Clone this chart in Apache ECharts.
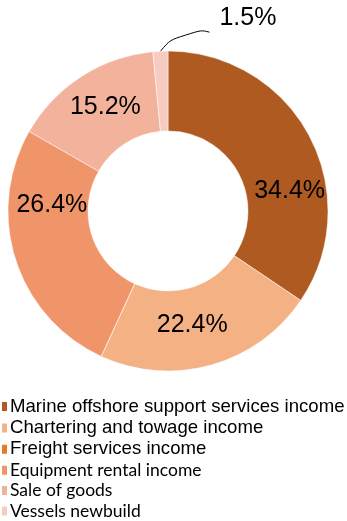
<!DOCTYPE html>
<html>
<head>
<meta charset="utf-8">
<script src="https://cdn.jsdelivr.net/npm/echarts@6/dist/echarts.min.js"></script>
<style>
  html, body { margin: 0; padding: 0; background: #fff; }
  #chart { width: 347px; height: 521px; }
</style>
</head>
<body>
<div id="chart"></div>
<script>
// Revenue breakdown by segment (share of total, %)
const categories = [
  'Marine offshore support services income',
  'Chartering and towage income',
  'Freight services income',
  'Equipment rental income',
  'Sale of goods',
  'Vessels newbuild'
];
const shares = [34.4, 22.4, 0, 26.4, 15.2, 1.5];
const colors = ['#AE5A21', '#F4B183', '#E47A2A', '#F0946A', '#F2B29B', '#F7CCC0'];

// Nudges for the in-ring labels, relative to their default spot
const labelNudge = [[13, 38], [-9, -4], [0, 0], [1, -43], [4, 0], [0, 0]];

const chart = echarts.init(document.getElementById('chart'), null, { renderer: 'canvas' });

const isSmall = v => v > 0 && v < 5;

const data = categories.map((name, i) => {
  const item = { name: name, value: shares[i], itemStyle: { color: colors[i] } };
  if (shares[i] === 0) {
    item.label = { show: false };
    item.labelLine = { show: false };
  }
  if (isSmall(shares[i])) {
    item.label = { position: 'outside' };
    item.labelLine = { show: true, length: 8, length2: 40, smooth: 0.7,
      lineStyle: { color: '#000', width: 1 } };
  }
  return item;
});

chart.setOption({
  animation: false,
  legend: {
    orient: 'vertical',
    left: 0,
    top: 397,
    height: 150,
    padding: 0,
    itemWidth: 7,
    itemHeight: 11,
    itemGap: 2.4,
    icon: 'rect',
    data: categories,
    formatter: function (name) {
      return categories.indexOf(name) >= 3 ? '{b|' + name + '}' : '{a|' + name + '}';
    },
    textStyle: {
      color: '#000',
      padding: [0, 0, 0, -3],
      rich: {
        a: { fontFamily: 'Liberation Sans, Arial, sans-serif', fontSize: 18.6, lineHeight: 20, color: '#000' },
        b: { fontFamily: 'Lato, sans-serif', fontSize: 17.5, lineHeight: 20, color: '#000' }
      }
    }
  },
  series: [{
    type: 'pie',
    center: [168, 211],
    radius: [80, 160],
    startAngle: 90,
    clockwise: true,
    avoidLabelOverlap: false,
    itemStyle: { borderColor: '#fff', borderWidth: 0.5 },
    label: {
      show: true,
      position: 'inside',
      formatter: function (p) { return p.value.toFixed(1) + '%'; },
      fontFamily: 'Liberation Sans, Arial, sans-serif',
      fontSize: 25,
      color: '#000'
    },
    labelLine: { show: false },
    labelLayout: function (p) {
      if (isSmall(shares[p.dataIndex])) {
        const s = p.labelLinePoints ? p.labelLinePoints[0] : [p.rect.x + p.rect.width - 5, p.rect.y + 1];
        return {
          x: s[0] + 59, y: s[1] - 33, align: 'left', verticalAlign: 'middle',
          labelLinePoints: [s, [s[0] + 22, s[1] - 26], [s[0] + 49, s[1] - 19]]
        };
      }
      const n = labelNudge[p.dataIndex];
      return { dx: n[0], dy: n[1] };
    },
    data: data
  }]
});
</script>
</body>
</html>
